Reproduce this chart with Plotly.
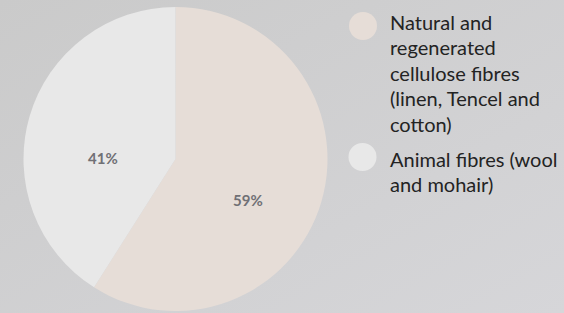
import math
import plotly.graph_objects as go

labels = ["Natural and regenerated cellulose fibres (linen, Tencel and cotton)",
          "Animal fibres (wool and mohair)"]
legend_lines = [["Natural and", "regenerated", "cellulose fibres", "(linen, Tencel and", "cotton)"],
                ["Animal fibres (wool", "and mohair)"]]
values = [59, 41]
colors = ["#e6ddd7", "#e8e8e8"]

W, H = 564, 313
CX, CY, R = 175.5, 159, 152

fig = go.Figure()
fig.add_trace(go.Pie(
    labels=labels, values=values, sort=False, direction="clockwise", rotation=0,
    marker=dict(colors=colors, line=dict(width=0)),
    textinfo="none",
    domain=dict(x=[(CX - R) / W, (CX + R) / W], y=[1 - (CY + R) / H, 1 - (CY - R) / H]),
    showlegend=False, hoverinfo="label+percent",
))

annotations = []
# percentage labels placed along each slice bisector (computed from the values)
total = sum(values)
cum = 0
for v in values:
    mid = (cum + v / 2) / total * 2 * math.pi
    cum += v
    px = CX + 76 * math.sin(mid)
    py = CY - 76 * math.cos(mid) + 20
    annotations.append(dict(text=f"{round(v / total * 100)}%", xref="paper", yref="paper",
                            x=px / W, y=1 - py / H, xanchor="center", yanchor="middle",
                            showarrow=False,
                            font=dict(family="Lato", size=15, color="#707075", weight="bold")))

shapes = []
item_pos = [(363, 26, 22), (362.5, 157, 159)]
for i, lines in enumerate(legend_lines):
    cx, cy, ty = item_pos[i]
    r = 14
    shapes.append(dict(type="circle", xref="paper", yref="paper",
                       x0=(cx - r) / W, x1=(cx + r) / W,
                       y0=1 - (cy + r) / H, y1=1 - (cy - r) / H,
                       fillcolor=colors[i], line=dict(width=0), layer="above"))
    for j, ln in enumerate(lines):
        y = ty + j * 25.4
        annotations.append(dict(text=ln, xref="paper", yref="paper",
                                x=388 / W, y=1 - y / H, xanchor="left", yanchor="middle",
                                showarrow=False,
                                font=dict(family="Lato", size=20, color="#232323")))

bg_svg = ("data:image/svg+xml;utf8,<svg xmlns='http://www.w3.org/2000/svg' width='564' height='313'>"
          "<defs><linearGradient id='g' x1='0' y1='0' x2='1' y2='1'>"
          "<stop offset='0' stop-color='%23cacaca'/><stop offset='1' stop-color='%23d6d6d9'/>"
          "</linearGradient></defs><rect width='564' height='313' fill='url(%23g)'/></svg>")

fig.update_layout(
    width=W, height=H, margin=dict(l=0, r=0, t=0, b=0),
    paper_bgcolor="#d0d0d1", plot_bgcolor="#d0d0d1",
    shapes=shapes, annotations=annotations,
    images=[dict(source=bg_svg, xref="paper", yref="paper", x=0, y=1, sizex=1, sizey=1,
                 xanchor="left", yanchor="top", sizing="stretch", layer="below")],
)
fig.write_html("out.html", config={"displayModeBar": False},
               post_script="document.body.style.margin='0';document.body.style.overflow='hidden';")
